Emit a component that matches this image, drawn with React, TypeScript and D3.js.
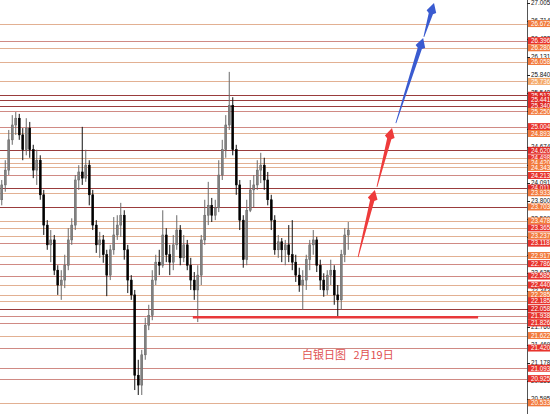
import React from "react";
import * as d3 from "d3";

// OHLC candles: [open, high, low, close]
const candles: [number, number, number, number][] = [
  [23.82, 24.14, 23.73, 24.06], [24.06, 24.46, 23.95, 24.30], [24.30, 24.95, 24.22, 24.79], [24.79, 25.19, 24.71, 25.03],
  [25.03, 25.24, 24.87, 25.14], [25.14, 25.21, 24.79, 24.87], [24.87, 24.98, 24.46, 24.63], [24.63, 25.14, 24.54, 24.98],
  [24.98, 25.08, 24.50, 24.63], [24.63, 24.71, 24.17, 24.30], [24.30, 24.63, 24.06, 24.46], [24.46, 24.54, 23.82, 23.90],
  [23.90, 23.98, 23.25, 23.41], [23.41, 23.49, 23.01, 23.09], [23.09, 23.33, 22.81, 23.17], [23.17, 23.25, 22.60, 22.68],
  [22.68, 22.76, 22.28, 22.44], [22.44, 22.68, 22.20, 22.52], [22.52, 22.93, 22.39, 22.76], [22.76, 23.36, 22.68, 23.17],
  [23.17, 23.52, 23.09, 23.41], [23.41, 24.22, 23.33, 24.14], [24.14, 24.38, 23.98, 24.27], [24.27, 25.00, 24.06, 24.17],
  [24.17, 24.63, 24.11, 24.38], [24.38, 24.46, 23.73, 23.90], [23.90, 23.98, 23.33, 23.41], [23.41, 23.49, 22.96, 23.09],
  [23.09, 23.30, 22.88, 23.17], [23.17, 23.25, 22.80, 22.93], [22.93, 23.01, 22.26, 22.60], [22.60, 23.09, 22.52, 23.01],
  [23.01, 23.54, 22.93, 23.25], [23.25, 23.57, 23.17, 23.41], [23.41, 23.77, 23.22, 23.57], [23.57, 23.65, 22.85, 23.01],
  [23.01, 23.09, 22.31, 22.52], [22.52, 22.60, 22.20, 22.28], [22.28, 22.36, 20.74, 20.98], [20.98, 21.23, 20.66, 20.82],
  [20.82, 21.39, 20.66, 21.31], [21.31, 21.91, 21.23, 21.79], [21.79, 22.12, 21.71, 21.95], [21.95, 22.68, 21.87, 22.52],
  [22.52, 22.93, 22.44, 22.81], [22.81, 23.01, 22.60, 22.76], [22.76, 23.65, 22.72, 23.25], [23.25, 23.36, 22.81, 22.93],
  [22.93, 23.09, 22.60, 22.81], [22.81, 23.25, 22.68, 23.09], [23.09, 23.57, 23.01, 23.33], [23.33, 23.41, 22.76, 22.88],
  [22.88, 23.25, 22.81, 23.09], [23.09, 23.17, 22.68, 22.76], [22.76, 22.88, 22.36, 22.52], [22.52, 22.65, 22.20, 22.36],
  [22.36, 22.76, 21.84, 22.60], [22.60, 23.25, 22.44, 23.17], [23.17, 23.82, 23.09, 23.57], [23.57, 24.11, 23.41, 23.73],
  [23.73, 23.85, 23.46, 23.57], [23.57, 23.82, 23.49, 23.69], [23.69, 24.46, 23.62, 24.22], [24.22, 24.79, 24.14, 24.63],
  [24.63, 25.19, 24.50, 25.03], [25.03, 25.89, 24.95, 25.35], [25.35, 25.48, 24.54, 24.63], [24.63, 24.71, 23.90, 24.06],
  [24.06, 24.14, 23.33, 23.49], [23.49, 23.57, 22.72, 22.85], [22.85, 23.82, 22.76, 23.65], [23.65, 24.14, 23.62, 23.98],
  [23.98, 24.22, 23.70, 24.06], [24.06, 24.46, 23.98, 24.30], [24.30, 24.58, 24.09, 24.38], [24.38, 24.50, 23.98, 24.14],
  [24.14, 24.27, 23.73, 23.82], [23.82, 23.90, 23.33, 23.49], [23.49, 23.57, 22.93, 23.01], [23.01, 23.25, 22.88, 23.14],
  [23.14, 23.20, 22.81, 23.01], [23.01, 23.17, 22.76, 23.09], [23.09, 23.41, 22.81, 22.93], [22.93, 23.49, 22.68, 22.81],
  [22.81, 22.93, 22.49, 22.60], [22.60, 22.72, 22.33, 22.44], [22.44, 22.68, 22.04, 22.52], [22.52, 22.93, 22.36, 22.85],
  [22.85, 23.17, 22.68, 23.09], [23.09, 23.33, 22.93, 23.17], [23.17, 23.22, 22.65, 22.76], [22.76, 22.85, 22.36, 22.52],
  [22.52, 22.63, 22.25, 22.36], [22.36, 22.68, 22.28, 22.60], [22.60, 22.85, 22.44, 22.68], [22.68, 22.76, 22.12, 22.28],
  [22.28, 22.44, 21.92, 22.20], [22.20, 23.01, 22.04, 22.93], [22.93, 23.36, 22.81, 23.25], [23.25, 23.46, 23.01, 23.33],
];

// horizontal price levels and their style kind
const levelPrices = [
  26.672, 26.396, 26.280, 26.058, 25.736, 25.512, 25.441, 25.340, 25.250, 25.004, 24.893,
  24.620, 24.498, 24.420, 24.343, 24.213, 24.011, 23.933, 23.703, 23.478, 23.365, 23.237,
  23.118, 22.917, 22.786, 22.585, 22.440, 22.285, 22.185, 22.058, 21.938, 21.826, 21.622,
  21.420, 21.093, 20.925, 20.533,
];
const levelKinds = [
  "tan", "rose", "tan", "tan", "light", "dark", "dark", "dark", "roseO", "rose", "tan",
  "dark", "tanR", "tan", "tan", "rose", "dark", "tan", "darkO", "tan", "tanR", "tan",
  "rose", "tan", "rose", "rose", "tanR", "tan", "tanR", "dark", "rose", "rose", "tan",
  "rose", "rose", "rose", "tan",
];

// price scale tick labels
const tickLabels = [
  27.005, 26.714, 26.422, 26.131, 25.840, 25.548, 25.257, 24.966, 24.674, 24.383, 24.091,
  23.800, 23.509, 23.217, 22.926, 22.635, 22.343, 22.052, 21.760, 21.469, 21.178, 20.886, 20.595,
];

// projection arrows in (candle index, price)
const redArrows = [
  { from: [101.8, 22.89], to: [106.6, 23.98] },
  { from: [107.2, 24.03], to: [111.5, 24.98] },
];
const blueArrows = [
  { from: [112.6, 25.06], to: [120.4, 26.44] },
  { from: [120.6, 26.455], to: [123.5, 27.005] },
];
const supportLine = { fromIdx: 54.6, toIdx: 136.1, price: 21.92 };
const titleText = "白银日图   2月19日";

const W = 550;
const H = 414;
const AXIS_X = 527;

const lineColor: Record<string, string> = {
  tan: "#e2b092", rose: "#d08a84", light: "#e2b092", dark: "#9a3c3c", roseO: "#d08a84",
  tanR: "#e2b092", darkO: "#9a3c3c",
};
const labelBg: Record<string, string> = {
  tan: "#f27a3c", rose: "#e8342c", light: "#f4a868", dark: "#e02a26", roseO: "#f27a3c",
  tanR: "#e8342c", darkO: "#f27a3c",
};

function arrowPath(x0: number, y0: number, x1: number, y1: number) {
  const dx = x1 - x0, dy = y1 - y0;
  const len = Math.hypot(dx, dy);
  const ux = dx / len, uy = dy / len;
  const px = -uy, py = ux;
  const headLen = 11, headW = 5, neckW = 2.2, tailW = 0.4;
  const nx = x1 - ux * headLen, ny = y1 - uy * headLen;
  const p = d3.path();
  p.moveTo(x0 + px * tailW, y0 + py * tailW);
  p.lineTo(nx + px * neckW, ny + py * neckW);
  p.lineTo(nx + ux * 2 + px * headW, ny + uy * 2 + py * headW);
  p.lineTo(x1, y1);
  p.lineTo(nx + ux * 2 - px * headW, ny + uy * 2 - py * headW);
  p.lineTo(nx - px * neckW, ny - py * neckW);
  p.lineTo(x0 - px * tailW, y0 - py * tailW);
  p.closePath();
  return p.toString();
}

export default function App() {
  const y = d3.scaleLinear().domain([27.005, 20.595]).range([3, 399]);
  const x = d3.scaleLinear().domain([0, candles.length - 1]).range([1.75, 348.25]);

  return (
    <svg
      width={W}
      height={H}
      style={{ position: "absolute", left: 0, top: 0, background: "#fff" }}
      fontFamily="Arial, 'Liberation Sans', sans-serif"
    >
      <rect x={0} y={0} width={W} height={H} fill="#fff" />
      {levelPrices.map((p, i) => (
        <line
          key={"l" + i}
          x1={0}
          x2={AXIS_X}
          y1={Math.round(y(p)) + 0.5}
          y2={Math.round(y(p)) + 0.5}
          stroke={lineColor[levelKinds[i]]}
          strokeWidth={1}
        />
      ))}
      {candles.map(([o, h, l, c], i) => {
        const cx = x(i);
        const up = c >= o;
        const top = y(Math.max(o, c));
        const bot = y(Math.min(o, c));
        return (
          <g key={"c" + i}>
            <line x1={cx} x2={cx} y1={y(h)} y2={y(l)} stroke={up ? "#6a6a6a" : "#111"} strokeWidth={1} />
            <rect
              x={cx - 1}
              y={top}
              width={2}
              height={Math.max(1, bot - top)}
              fill={up ? "#808080" : "#000"}
              stroke={up ? "#666" : "#000"}
              strokeWidth={0.5}
            />
          </g>
        );
      })}
      <line
        x1={x(supportLine.fromIdx)}
        x2={x(supportLine.toIdx)}
        y1={y(supportLine.price)}
        y2={y(supportLine.price)}
        stroke="#e8383a"
        strokeWidth={2.5}
      />
      {redArrows.map((a, i) => (
        <path key={"ra" + i} d={arrowPath(x(a.from[0]), y(a.from[1]), x(a.to[0]), y(a.to[1]))} fill="#ee3b3b" />
      ))}
      {blueArrows.map((a, i) => (
        <path key={"ba" + i} d={arrowPath(x(a.from[0]), y(a.from[1]), x(a.to[0]), y(a.to[1]))} fill="#3a5bd0" />
      ))}
      <text
        x={302}
        y={359}
        fontSize={11}
        fill="#e05050"
        fontFamily="'Noto Sans CJK SC', sans-serif"
        style={{ whiteSpace: "pre" }}
        xmlSpace="preserve"
      >
        {titleText}
      </text>
      <line x1={AXIS_X + 0.5} x2={AXIS_X + 0.5} y1={0} y2={H} stroke="#555" strokeWidth={1} />
      {tickLabels.map((t, i) => (
        <g key={"t" + i}>
          <line x1={AXIS_X} x2={AXIS_X + 3} y1={Math.round(y(t)) + 0.5} y2={Math.round(y(t)) + 0.5} stroke="#222" />
          <text x={AXIS_X + 4} y={y(t) + 2.3} fontSize={6.3} fill="#111">
            {t.toFixed(3)}
          </text>
        </g>
      ))}
      {levelPrices.map((p, i) => (
        <g key={"lb" + i}>
          <rect x={AXIS_X + 1} y={y(p) - 3.5} width={W - AXIS_X - 1} height={7} fill={labelBg[levelKinds[i]]} />
          <text x={AXIS_X + 4} y={y(p) + 2.3} fontSize={6.3} fill="#fff">
            {p.toFixed(3)}
          </text>
        </g>
      ))}
    </svg>
  );
}
